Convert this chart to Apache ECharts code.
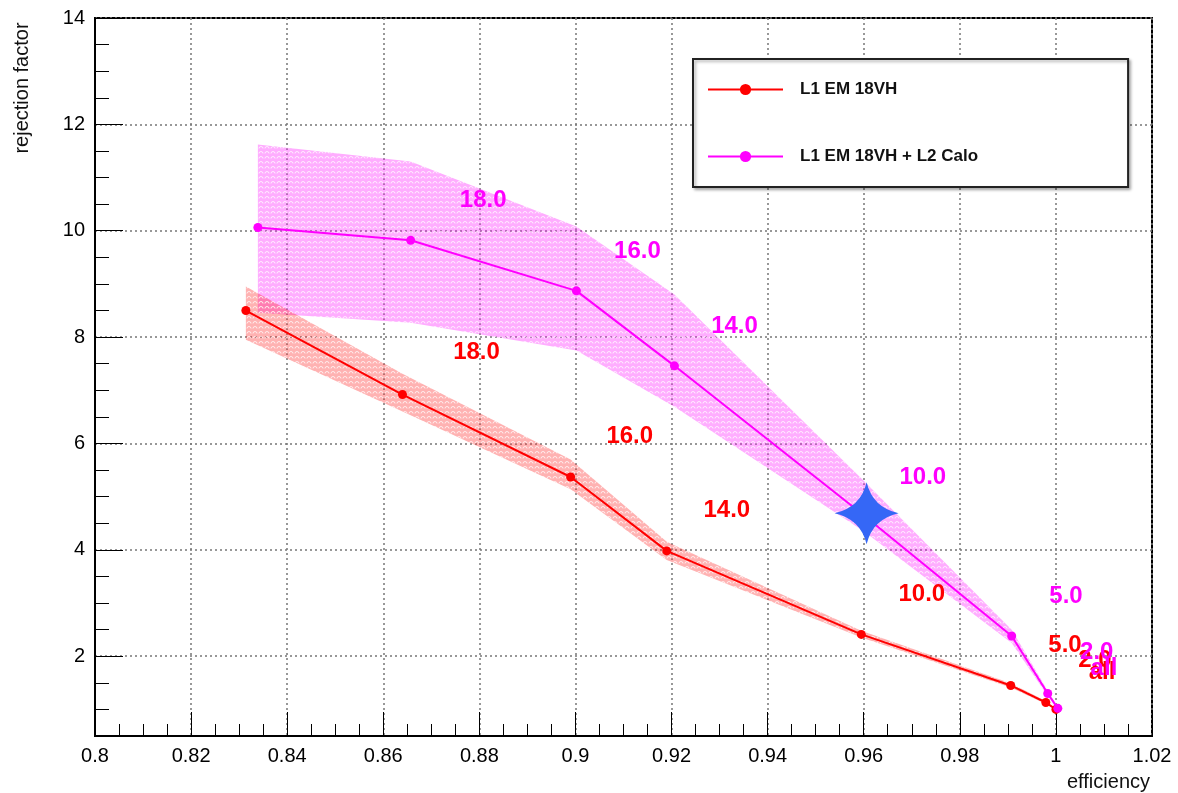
<!DOCTYPE html>
<html>
<head>
<meta charset="utf-8">
<script src="https://cdn.jsdelivr.net/npm/echarts@6/dist/echarts.min.js"></script>
<style>
  html, body { margin: 0; padding: 0; background: #fff; }
  #chart { width: 1178px; height: 793px; }
</style>
</head>
<body>
<div id="chart"></div>
<script>
// L1 EM 18VH
const redEff = [0.8314, 0.864, 0.899, 0.919, 0.9595, 0.9906, 0.9979, 1.0];
const redRej = [8.50, 6.92, 5.37, 3.98, 2.41, 1.45, 1.13, 1.0];
const redUpper = [8.95, 7.31, 5.70, 4.15, 2.48, 1.49, 1.16, 1.01];
const redLower = [7.95, 6.60, 5.14, 3.81, 2.35, 1.41, 1.10, 0.99];

// L1 EM 18VH + L2 Calo
const magEff = [0.8339, 0.8657, 0.9002, 0.9206, 0.960, 0.9908, 0.9983, 1.0004];
const magRej = [10.06, 9.82, 8.87, 7.46, 4.65, 2.38, 1.30, 1.02];
const magUpper = [11.62, 11.30, 10.08, 8.80, 5.30, 2.50, 1.35, 1.05];
const magLower = [8.46, 8.27, 7.75, 6.69, 4.35, 2.25, 1.25, 0.99];

// threshold annotations
const redLabels = ["18.0", "16.0", "14.0", "10.0", "5.0", "2.0", "all"];
const redLabelX = [0.8794, 0.9113, 0.9315, 0.9721, 1.0019, 1.0081, 1.0096];
const redLabelY = [7.71, 6.14, 4.75, 3.17, 2.21, 1.92, 1.70];
const magLabels = ["18.0", "16.0", "14.0", "10.0", "5.0", "2.0", "all"];
const magLabelX = [0.8808, 0.9129, 0.9331, 0.9723, 1.0021, 1.0085, 1.0100];
const magLabelY = [10.57, 9.61, 8.21, 5.37, 3.13, 2.08, 1.77];

// working point marker
const starPoint = [0.9606, 4.69];

const FONT = "Liberation Sans";
const RED = "#ff0000";
const MAGENTA = "#ff00ff";

const chart = echarts.init(document.getElementById("chart"));

// small scalloped hatch, roughly like the ROOT fill style
function hatch(rgb, alpha) {
  const c = document.createElement("canvas");
  c.width = 6; c.height = 5;
  const ctx = c.getContext("2d");
  ctx.fillStyle = "rgba(" + rgb + "," + alpha + ")";
  ctx.fillRect(0, 0, 6, 5);
  ctx.strokeStyle = "rgba(255,255,255,0.75)";
  ctx.lineWidth = 1;
  ctx.beginPath();
  ctx.arc(3, 3.5, 2, Math.PI, 2 * Math.PI);
  ctx.stroke();
  return { image: c, repeat: "repeat" };
}

function band(xs, hi, lo, fill) {
  return {
    type: "custom",
    silent: true,
    z: 1,
    data: [[xs[0], hi[0]]],
    renderItem: (params, api) => {
      const top = xs.map((x, i) => api.coord([x, hi[i]]));
      const bottom = xs.map((x, i) => api.coord([x, lo[i]])).reverse();
      return {
        type: "polygon",
        shape: { points: top.concat(bottom) },
        style: { fill: fill }
      };
    }
  };
}

function labels(names, xs, ys, color) {
  return {
    type: "scatter",
    silent: true,
    z: 5,
    symbolSize: 1,
    itemStyle: { color: "rgba(0,0,0,0)", opacity: 1 },
    data: names.map((n, i) => ({ name: n, value: [xs[i], ys[i]] })),
    label: {
      show: true,
      position: "inside",
      formatter: (p) => p.name,
      color: color,
      opacity: 1,
      fontFamily: FONT,
      fontWeight: "bold",
      fontSize: 24
    }
  };
}

const option = {
  backgroundColor: "#fff",
  animation: false,
  grid: {
    left: 95, right: 26, top: 18, bottom: 57,
    show: true, borderColor: "#000", borderWidth: 2
  },
  legend: {
    left: 693, top: 59,
    orient: "vertical",
    data: ["L1 EM 18VH", "L1 EM 18VH + L2 Calo"],
    itemWidth: 75, itemHeight: 14, itemGap: 50,
    padding: [22, 150, 22, 14],
    borderColor: "#222", borderWidth: 2,
    shadowColor: "rgba(0,0,0,0.3)", shadowBlur: 3, shadowOffsetX: 2, shadowOffsetY: 2,
    backgroundColor: "#fff",
    textStyle: { fontFamily: FONT, fontWeight: "bold", fontSize: 17, color: "#111", padding: [0, 0, 0, 12] }
  },
  xAxis: {
    type: "value",
    min: 0.8, max: 1.02, interval: 0.02,
    axisLine: { onZero: false, lineStyle: { color: "#000", width: 2 } },
    axisTick: { inside: true, length: 24, lineStyle: { color: "#000" } },
    minorTick: { show: true, splitNumber: 4, length: 12, lineStyle: { color: "#000" } },
    axisLabel: { color: "#000", fontFamily: FONT, fontSize: 20, margin: 10 },
    splitLine: { show: true, lineStyle: { color: "#777", type: [2, 3], width: 1.5 } }
  },
  yAxis: [{
    type: "value",
    min: 0.5, max: 14, splitNumber: 7,
    axisLine: { onZero: false, lineStyle: { color: "#000", width: 2 } },
    axisTick: { inside: true, length: 28, lineStyle: { color: "#000" } },
    axisLabel: { color: "#000", fontFamily: FONT, fontSize: 20, margin: 10, showMinLabel: false },
    splitLine: { show: true, lineStyle: { color: "#777", type: [2, 3], width: 1.5 } }
  }, {
    // minor ticks every 0.5
    type: "value",
    position: "left",
    min: 0.5, max: 14, interval: 0.5,
    axisLine: { show: false },
    axisTick: { inside: true, length: 14, lineStyle: { color: "#000" } },
    axisLabel: { show: false },
    splitLine: { show: false }
  }],
  graphic: [{
    type: "text", x: 22, y: 88, rotation: Math.PI / 2,
    style: { text: "rejection factor", fontFamily: FONT, fontSize: 20, fill: "#111", align: "center", verticalAlign: "middle" }
  }, {
    type: "text", x: 1150, y: 782,
    style: { text: "efficiency", fontFamily: FONT, fontSize: 20, fill: "#111", align: "right", verticalAlign: "middle" }
  }],
  series: [
    band(magEff, magUpper, magLower, hatch("255,0,255", 0.32)),
    band(redEff, redUpper, redLower, hatch("255,30,30", 0.34)),
    {
      name: "L1 EM 18VH",
      type: "line",
      z: 3,
      data: redEff.map((x, i) => [x, redRej[i]]),
      symbol: "circle", symbolSize: 9,
      itemStyle: { color: RED },
      lineStyle: { color: RED, width: 2 }
    },
    {
      name: "L1 EM 18VH + L2 Calo",
      type: "line",
      z: 3,
      data: magEff.map((x, i) => [x, magRej[i]]),
      symbol: "circle", symbolSize: 9,
      itemStyle: { color: MAGENTA },
      lineStyle: { color: MAGENTA, width: 2 }
    },
    labels(redLabels, redLabelX, redLabelY, RED),
    labels(magLabels, magLabelX, magLabelY, MAGENTA),
    {
      type: "scatter",
      silent: true,
      z: 6,
      data: [starPoint],
      symbol: "path://M0,-32 Q6,-6 32,0 Q6,6 0,32 Q-6,6 -32,0 Q-6,-6 0,-32 Z",
      symbolSize: [64, 62],
      itemStyle: { color: "#3567f6", opacity: 1 }
    }
  ]
};

chart.setOption(option);
</script>
</body>
</html>
